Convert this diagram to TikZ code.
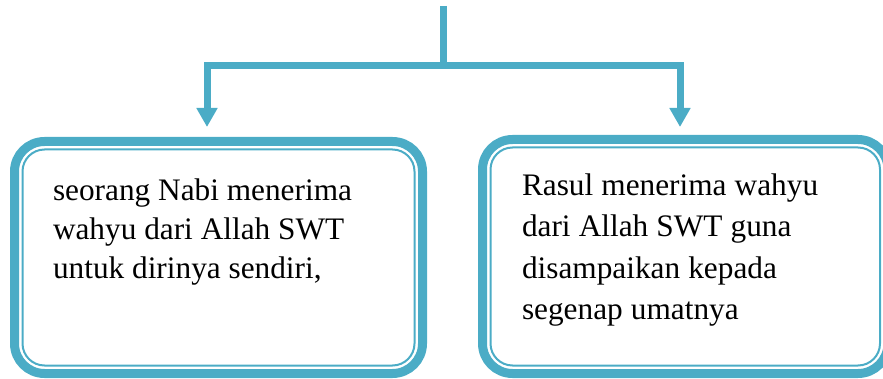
\documentclass[tikz,border=0pt]{standalone}
\usepackage{fontspec}
\setmainfont{Liberation Serif}
\usetikzlibrary{arrows.meta,calc}
\definecolor{teal}{RGB}{75,172,198}
\tikzset{
  outerbox/.style={draw=teal, line width=9pt, rounded corners=30pt, rectangle, inner sep=0pt, outer sep=0pt},
  innerline/.style={draw=teal, line width=2pt, rounded corners=22pt},
  conn/.style={draw=teal, line width=7pt, line join=miter},
  tip/.style={-{Triangle[width=20pt,length=19pt]}},
  boxtext/.style={anchor=north west, inner sep=0pt, outer sep=0pt, text width=360pt, align=left}
}
\begin{document}
\begin{tikzpicture}[x=1pt,y=-1pt]
\useasboundingbox (0,0) rectangle (883,379);
% boxes
\node[outerbox, minimum width=408pt, minimum height=232pt] (L) at (218.5,257.5) {};
\node[outerbox, minimum width=405.5pt, minimum height=234pt] (R) at (685.25,256.5) {};
\draw[innerline] ($(L.north west)+(8,8)$) rectangle ($(L.south east)+(-8,-8)$);
\draw[innerline] ($(R.north west)+(8,8)$) rectangle ($(R.south east)+(-8,-8)$);
% texts
\node[boxtext, font=\fontsize{31.3}{39}\selectfont] (Lt) at (53,178.6)
  {\spaceskip=.25em\relax seorang Nabi menerima\\wahyu dari Allah SWT\\untuk dirinya sendiri,};
\node[boxtext, font=\fontsize{31.3}{41.5}\selectfont] (Rt) at (522,173.6)
  {\spaceskip=.26em\relax Rasul menerima wahyu\\dari Allah SWT guna\\disampaikan kepada\\segenap umatnya};
% connectors
\coordinate (top) at (443,6);
\coordinate (J) at (443,66);
\coordinate (a1) at (207,127);
\coordinate (a2) at (680,127);
\draw[conn] (top) -- (J);
\draw[conn, tip] (J) -| (a1);
\draw[conn, tip] (J) -| (a2);
\end{tikzpicture}
\end{document}
